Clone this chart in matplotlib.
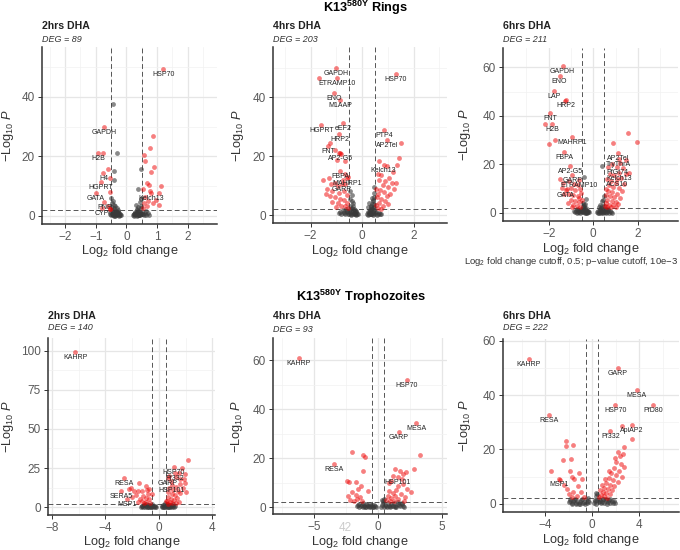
import numpy as np
import matplotlib.pyplot as plt

plt.rcParams['font.family'] = ['Liberation Sans', 'DejaVu Sans']
plt.rcParams['mathtext.fontset'] = 'custom'
plt.rcParams['mathtext.rm'] = 'Liberation Sans'
plt.rcParams['mathtext.it'] = 'Liberation Sans:italic'
plt.rcParams['mathtext.bf'] = 'Liberation Sans:bold'

FC_CUT = 0.5
P_CUT = 2.0  # -log10(10e-3)

# ---------------- K13 580Y Rings ----------------
rings_2h_genes = ['HSP70', 'GAPDH', 'H2B', 'H4', 'HGPRT', 'GATA', 'PNP', 'CYP', 'Kelch13']
rings_2h_gene_pts = [(1.20, 49.4), (-0.73, 30.0), (-0.93, 21.0), (-0.75, 14.5), (-0.84, 11.3),
                     (-1.00, 7.6), (-0.72, 4.6), (-0.81, 2.6), (0.80, 7.6)]
rings_2h_pts = [
    (-0.44, 37.6), (0.87, 26.9), (0.77, 22.7), (-0.31, 21.2), (-0.75, 21.0),
    (0.57, 20.4), (0.59, 18.6), (0.89, 16.5), (0.46, 15.8), (0.81, 14.9),
    (-0.61, 15.8), (-0.42, 15.2), (-0.52, 12.8), (-0.42, 12.1), (0.67, 11.2),
    (0.74, 10.4), (1.11, 10.2), (0.39, 8.9), (0.77, 8.4), (0.54, 9.1),
    (-0.52, 8.1), (1.07, 7.6), (-0.50, 6.1), (1.05, 3.7), (0.95, 5.5),
    (0.62, 6.5), (0.70, 5.0), (0.58, 4.2), (0.85, 4.5), (0.66, 3.2),
    (0.55, 2.8), (-0.60, 3.5), (-0.55, 2.5),
    (-0.55, 1.2), (-0.52, 0.5), (-0.50, 3.1), (-0.48, 0.8), (-0.46, 4.2),
    (-0.45, 1.9), (-0.43, 0.3), (-0.41, 2.6), (-0.40, 1.1), (-0.38, 0.6),
    (-0.36, 3.5), (-0.35, 0.2), (-0.33, 1.6), (-0.31, 0.9), (-0.30, 0.4),
    (-0.28, 2.1), (-0.27, 0.7), (-0.25, 0.3), (-0.23, 1.0), (-0.21, 0.2),
    (-0.44, 5.0), (-0.39, 0.4), (-0.34, 1.3), (-0.29, 0.6), (-0.47, 2.0),
    (-0.42, 0.1), (-0.37, 0.9), (-0.32, 2.8), (-0.26, 1.5), (-0.20, 0.5),
    (-0.49, 0.2), (-0.45, 0.6), (-0.41, 1.5), (-0.37, 0.1), (-0.33, 0.5),
    (-0.29, 1.2), (-0.24, 0.1), (-0.18, 0.3), (-0.53, 2.2), (-0.39, 3.8),
    (0.22, 0.3), (0.25, 0.8), (0.27, 0.2), (0.29, 1.4), (0.31, 0.5),
    (0.33, 2.2), (0.35, 0.9), (0.37, 3.0), (0.39, 0.4), (0.41, 1.7),
    (0.43, 4.8), (0.45, 1.0), (0.47, 2.6), (0.49, 0.6), (0.26, 0.1),
    (0.30, 0.6), (0.34, 1.2), (0.38, 0.2), (0.42, 0.8), (0.46, 5.6),
    (0.32, 3.6), (0.36, 1.9), (0.40, 0.4), (0.44, 1.2), (0.48, 3.3),
    (0.55, 0.7), (0.60, 1.1), (0.65, 0.4), (0.70, 0.9), (0.52, 1.5),
    (0.24, 0.5), (0.28, 1.0), (0.33, 0.1), (0.37, 0.7), (0.41, 0.2),
    (0.45, 0.3), (0.50, 0.8), (0.58, 0.2), (0.63, 1.6), (0.75, 0.3),
]

rings_4h_genes = ['GAPDH', 'ETRAMP10', 'HSP70', 'ENO', 'M1AAP', 'HGPRT', 'eEF2', 'HRP2',
                  'PTP4', 'AP2Tel', 'FNT', 'AP2-G5', 'Kelch13', 'FBPA', 'MAHRP1', 'GARP']
rings_4h_gene_pts = [(-1.01, 50.0), (-0.97, 46.4), (1.32, 47.7), (-1.10, 41.3), (-0.85, 38.9),
                     (-1.58, 30.6), (-0.74, 31.3), (-0.88, 27.4), (0.87, 28.7), (0.96, 25.3),
                     (-1.32, 23.4), (-0.84, 20.9), (0.84, 17.0), (-0.84, 15.0), (-0.58, 12.6),
                     (-0.78, 10.4)]
rings_4h_pts = [
    (-1.66, 46.4), (-1.25, 24.6), (1.51, 24.5), (-1.06, 22.2), (-0.88, 21.1),
    (-0.80, 20.6), (-0.99, 18.8), (-0.65, 18.4), (0.67, 18.2), (1.45, 19.4),
    (0.97, 16.6), (1.37, 17.0),
    (0.60, 14.0), (0.75, 13.5), (1.20, 14.6), (1.05, 12.5), (1.30, 11.0),
    (0.90, 11.5), (1.15, 10.8), (0.65, 11.8), (0.80, 10.2), (1.00, 9.5),
    (0.55, 9.0), (0.70, 8.5), (1.25, 8.8), (0.85, 7.8), (0.62, 7.0),
    (0.95, 6.5), (1.10, 7.2), (0.58, 6.0), (0.75, 5.5), (0.90, 4.8),
    (0.66, 4.2), (0.55, 3.5), (0.80, 3.0), (1.02, 3.8), (0.60, 2.5), (0.72, 2.2),
    (-1.50, 11.8), (-1.30, 12.5), (-1.20, 10.5), (-1.05, 11.0), (-0.95, 9.8),
    (-0.75, 12.0), (-0.65, 10.5), (-1.35, 9.0), (-1.15, 8.2), (-0.90, 7.5),
    (-0.70, 8.2), (-0.60, 6.8), (-1.25, 6.5), (-1.05, 6.0), (-0.85, 5.5),
    (-0.72, 5.0), (-0.58, 4.2), (-0.95, 4.0), (-1.15, 4.5), (-0.80, 3.2),
    (-0.65, 3.0), (-0.55, 2.4), (-1.00, 2.6), (-1.40, 7.0), (-0.68, 14.0), (-0.55, 13.0),
    (-0.90, 0.6), (-0.85, 1.2), (-0.80, 0.3), (-0.75, 1.7), (-0.70, 0.8),
    (-0.65, 0.2), (-0.60, 1.4), (-0.55, 0.5), (-0.50, 1.0), (-0.47, 3.2),
    (-0.44, 0.4), (-0.41, 2.5), (-0.38, 1.1), (-0.35, 4.1), (-0.32, 0.6),
    (-0.29, 1.8), (-0.26, 0.3), (-0.23, 0.9), (-0.20, 0.2), (-0.17, 0.5),
    (-0.45, 5.6), (-0.40, 6.8), (-0.36, 3.0), (-0.30, 2.2), (-0.25, 1.3),
    (-0.42, 0.1), (-0.33, 0.7), (-0.28, 0.4), (-0.62, 1.9), (-0.72, 0.9),
    (-0.48, 1.6), (-0.43, 2.0), (-0.37, 0.2), (-0.34, 1.5), (-0.27, 0.9),
    (-0.22, 0.1), (-0.52, 0.2), (-0.58, 0.9), (-0.46, 8.0), (-0.39, 4.8),
    (0.20, 0.4), (0.23, 1.0), (0.26, 0.2), (0.29, 1.6), (0.32, 0.6),
    (0.35, 0.3), (0.38, 1.2), (0.41, 0.8), (0.44, 0.1), (0.47, 1.8),
    (0.50, 0.5), (0.55, 1.1), (0.60, 0.3), (0.65, 0.7), (0.70, 0.2),
    (0.24, 2.6), (0.28, 4.0), (0.33, 3.2), (0.37, 5.8), (0.42, 2.4),
    (0.46, 7.5), (0.30, 1.4), (0.36, 0.5), (0.40, 3.8), (0.45, 6.2),
    (0.27, 0.9), (0.48, 9.5), (0.39, 2.0), (0.34, 1.9), (0.43, 4.6),
    (0.22, 0.1), (0.31, 0.2), (0.40, 0.4), (0.49, 0.9), (0.57, 0.1),
    (0.45, 2.8), (0.35, 2.6), (0.41, 5.2), (0.47, 3.6), (0.75, 0.5),
]

rings_6h_genes = ['GAPDH', 'ENO', 'LAP', 'HRP2', 'FNT', 'H2B', 'MAHRP1', 'FBPA', 'AP2-G5',
                  'GARP', 'ETRAMP10', 'GATA', 'AP2Tel', 'TryThrA', 'PfGt74', 'Kelch13', 'ACS10']
rings_6h_gene_pts = [(-1.38, 60.5), (-1.51, 56.5), (-1.78, 50.1), (-1.21, 46.5), (-1.94, 41.2),
                     (-1.85, 36.8), (-0.94, 31.5), (-1.30, 25.2), (-1.03, 19.4), (-0.94, 15.8),
                     (-0.64, 13.5), (-1.24, 9.4), (1.12, 24.7), (1.15, 22.3), (1.08, 19.0),
                     (1.15, 16.5), (1.08, 13.9)]
rings_6h_pts = [
    (-1.27, 46.0), (-2.15, 36.6), (-1.70, 30.0), (-2.00, 28.5), (1.54, 32.8),
    (1.96, 29.3), (0.90, 28.9), (1.48, 21.8), (1.22, 20.8), (0.37, 19.4),
    (-0.42, 14.9), (-0.34, 5.7),
    (0.64, 18.8), (0.85, 20.2), (1.35, 18.5), (1.60, 16.5), (1.45, 16.0),
    (0.75, 16.2), (0.95, 15.5), (1.25, 14.5), (0.60, 14.0), (0.80, 13.0),
    (1.00, 12.5), (1.40, 12.0), (0.70, 11.5), (0.90, 10.8), (1.15, 10.5),
    (0.55, 10.0), (0.65, 9.0), (0.85, 8.5), (1.05, 8.0), (1.30, 9.2),
    (0.58, 7.5), (0.75, 7.0), (0.95, 6.5), (1.20, 6.0), (0.62, 5.5),
    (0.82, 5.0), (1.00, 4.5), (0.55, 4.0), (0.70, 3.5), (0.90, 3.2),
    (1.10, 3.8), (0.60, 2.6), (0.78, 2.3), (0.52, 3.0), (1.02, 2.4),
    (-1.50, 14.0), (-1.35, 12.5), (-1.10, 13.0), (-0.85, 12.0), (-0.70, 11.5),
    (-1.40, 10.5), (-1.20, 10.0), (-1.00, 10.5), (-0.80, 9.5), (-0.60, 10.0),
    (-1.30, 8.0), (-1.10, 7.8), (-0.90, 7.5), (-0.70, 7.0), (-0.55, 8.2),
    (-1.00, 5.5), (-0.80, 5.0), (-0.65, 4.5), (-1.15, 4.2), (-0.90, 3.5),
    (-0.72, 3.0), (-0.58, 2.6), (-0.95, 2.3), (-0.62, 6.0), (-0.52, 5.2),
    (-0.85, 0.8), (-0.80, 0.3), (-0.75, 1.5), (-0.70, 0.6), (-0.65, 1.1),
    (-0.60, 0.2), (-0.55, 1.7), (-0.50, 0.4), (-0.46, 2.8), (-0.42, 0.9),
    (-0.38, 0.3), (-0.34, 1.3), (-0.30, 0.6), (-0.26, 0.2), (-0.22, 0.8),
    (-0.18, 0.4), (-0.48, 4.0), (-0.40, 3.2), (-0.32, 2.2), (-0.44, 1.9),
    (-0.36, 0.1), (-0.28, 1.0), (-0.52, 0.7), (-0.62, 0.4), (-0.72, 0.2),
    (-0.45, 0.5), (-0.39, 1.6), (-0.33, 0.1), (-0.24, 0.5), (-0.58, 1.0),
    (-0.68, 1.4), (-0.78, 0.9), (-0.47, 1.2), (-0.41, 2.4), (-0.35, 3.6),
    (0.18, 0.4), (0.22, 1.0), (0.26, 0.2), (0.30, 1.6), (0.34, 0.7),
    (0.38, 0.3), (0.42, 1.2), (0.46, 0.5), (0.50, 0.9), (0.55, 1.8),
    (0.60, 0.4), (0.65, 1.1), (0.70, 0.2), (0.75, 0.8), (0.80, 0.5),
    (0.24, 2.6), (0.32, 3.5), (0.40, 4.8), (0.28, 1.3), (0.36, 2.1),
    (0.44, 5.5), (0.48, 3.0), (0.58, 0.1), (0.68, 1.5), (0.42, 0.0),
    (0.20, 0.1), (0.29, 0.5), (0.37, 1.0), (0.45, 1.6), (0.53, 0.3),
    (0.62, 0.7), (0.85, 0.2), (0.46, 7.2), (0.39, 2.9), (0.33, 0.2),
]

# ---------------- K13 580Y Trophozoites ----------------
troph_2h_genes = ['KAHRP', 'RESA', 'SERA5', 'MSP1', 'HSP70', 'Pf332', 'GARP', 'HSP101']
troph_2h_gene_pts = [(-6.25, 98.9), (-2.59, 18.6), (-2.80, 10.4), (-2.40, 5.0), (1.10, 25.8),
                     (1.22, 22.0), (0.65, 18.5), (0.97, 14.3)]
troph_2h_pts = [
    (2.20, 30.1), (1.72, 24.8), (1.47, 22.0), (1.97, 21.0), (1.97, 15.6),
    (1.85, 18.2), (1.60, 17.8), (0.73, 20.0), (1.30, 19.5), (0.90, 17.0),
    (1.55, 14.5), (1.25, 13.0), (0.75, 12.5), (1.80, 12.0), (1.05, 11.0),
    (1.40, 10.5), (0.65, 9.5), (0.95, 8.5), (1.20, 7.5), (1.60, 9.0),
    (0.70, 6.5), (0.90, 5.5), (1.10, 4.8), (1.35, 6.0), (0.60, 4.0),
    (0.80, 3.2), (1.00, 2.6), (1.50, 3.5), (0.68, 2.3), (1.25, 2.8), (2.05, 10.0),
    (-2.26, 11.3), (-1.90, 10.2), (-1.60, 10.6), (-1.30, 10.5), (-0.90, 11.2),
    (-0.80, 8.6), (-1.47, 15.6), (-0.55, 8.5), (-1.75, 8.0), (-1.20, 7.2),
    (-1.00, 6.0), (-1.45, 5.5), (-0.75, 5.0), (-1.25, 4.0), (-0.95, 3.2),
    (-0.65, 2.8), (-1.60, 3.0), (-2.00, 6.5), (-1.10, 2.4), (-2.10, 12.5),
    (-1.00, 13.8), (-0.75, 11.5),
    (-1.35, 0.2), (-1.28, 0.8), (-1.20, 0.1), (-1.12, 1.2), (-1.05, 0.4),
    (-0.98, 0.6), (-0.90, 0.2), (-0.83, 1.5), (-0.76, 0.3), (-0.69, 0.9),
    (-0.62, 0.1), (-0.55, 1.8), (-0.48, 0.5), (-0.41, 0.2), (-0.34, 1.0),
    (-0.27, 0.4), (-0.20, 0.1), (-1.15, 1.6), (-0.95, 1.9), (-0.72, 1.3),
    (-0.50, 0.7), (-0.30, 0.6), (-1.30, 1.0), (-0.85, 0.0), (-0.60, 0.3),
    (0.20, 0.1), (0.27, 0.6), (0.34, 0.3), (0.41, 1.1), (0.48, 0.2),
    (0.55, 0.8), (0.62, 0.4), (0.69, 1.4), (0.76, 0.1), (0.83, 0.7),
    (0.90, 1.2), (0.97, 0.3), (1.04, 0.9), (1.11, 0.2), (1.18, 0.5),
    (0.30, 1.7), (0.45, 2.5), (0.60, 1.9), (0.75, 1.6), (0.90, 1.0),
    (1.05, 1.8), (0.38, 0.0), (0.52, 4.0), (0.66, 0.2), (0.80, 0.0),
]

troph_4h_genes = ['KAHRP', 'HSP70', 'MESA', 'GARP', 'RESA', 'HSP101']
troph_4h_gene_pts = [(-6.20, 60.8), (2.26, 51.8), (2.99, 34.4), (1.63, 30.6), (-3.41, 17.6),
                     (1.57, 12.2)]
troph_4h_pts = [
    (3.31, 21.3), (-2.05, 22.4), (-1.13, 21.3), (-1.02, 20.5), (-1.15, 14.6),
    (2.81, 15.4), (-2.42, 10.6), (-2.26, 10.1), (-1.70, 10.1), (-0.74, 6.7),
    (1.31, 15.4), (1.73, 14.6), (2.23, 14.3), (1.94, 13.6), (1.18, 12.5),
    (1.85, 11.5), (2.00, 9.5), (0.90, 9.8), (2.30, 7.5), (1.40, 7.0),
    (1.15, 5.8), (1.80, 5.2), (0.75, 4.5), (2.55, 6.0), (1.00, 3.8),
    (1.55, 3.2), (0.65, 2.8), (2.05, 2.6), (1.25, 2.3), (0.85, 6.5),
    (1.60, 8.8), (1.05, 10.5), (2.10, 4.2), (1.35, 4.6), (0.95, 2.4),
    (-2.00, 6.0), (-1.55, 7.5), (-2.30, 4.5), (-1.75, 5.0), (-1.40, 4.2),
    (-2.15, 3.0), (-1.60, 3.4), (-1.25, 2.6), (-1.90, 2.4), (-1.35, 8.5),
    (-1.65, 0.3), (-1.55, 0.8), (-1.45, 0.1), (-1.35, 0.5), (-1.25, 1.0),
    (-1.15, 0.2), (-1.05, 0.6), (-0.95, 0.1), (-0.85, 0.9), (-0.75, 0.3),
    (-0.65, 0.5), (-0.55, 0.0), (-0.45, 0.7), (-0.35, 0.2), (-0.25, 0.4),
    (-0.15, 0.1), (-1.50, 1.3), (-1.20, 1.5), (-0.90, 1.2), (-0.60, 1.1),
    (-0.30, 0.8), (-1.00, 0.0), (-0.70, 0.0), (-0.40, 0.0),
    (0.25, 0.2), (0.35, 0.7), (0.45, 0.1), (0.55, 1.0), (0.65, 0.3),
    (0.75, 1.5), (0.85, 0.5), (0.95, 0.1), (1.05, 1.2), (1.15, 0.4),
    (1.25, 1.8), (1.35, 0.6), (1.45, 0.2), (1.55, 1.4), (1.65, 0.8),
    (1.75, 0.3), (1.85, 1.1), (1.95, 0.5), (2.05, 0.2), (0.40, 1.7),
    (0.70, 0.0), (1.00, 0.6), (1.30, 0.0), (1.60, 1.9), (1.90, 1.6),
    (0.30, 2.8), (0.45, 3.4), (0.38, 2.3),
]

troph_6h_genes = ['KAHRP', 'GARP', 'MESA', 'HSP70', 'PfD80', 'RESA', 'ApiAP2', 'Pf332', 'MSP1']
troph_6h_gene_pts = [(-5.39, 53.4), (2.19, 50.0), (3.80, 41.8), (1.96, 36.5), (5.16, 36.3),
                     (-3.66, 32.6), (3.40, 28.9), (1.56, 26.8), (-2.83, 9.1)]
troph_6h_pts = [
    (2.50, 28.7), (3.38, 23.8), (2.21, 19.1), (-2.27, 23.2), (-2.20, 21.1),
    (-1.60, 21.7), (-2.50, 16.1), (-1.80, 16.6), (-3.55, 11.9),
    (-1.85, 11.9), (-1.10, 11.3), (-1.73, 9.8), (-2.75, 8.8), (-2.13, 5.4),
    (-1.53, 9.1), (-1.23, 6.6), (-0.89, 9.1), (-1.60, 4.5), (-2.00, 3.5),
    (-1.30, 3.0), (-0.95, 4.2), (-2.40, 6.8), (-1.75, 2.6), (-0.70, 2.5),
    (2.35, 17.5), (2.05, 15.5), (2.45, 14.8), (2.70, 13.5), (1.85, 13.0),
    (2.30, 12.2), (1.60, 11.5), (2.00, 10.5), (2.55, 10.0), (1.40, 9.5),
    (1.75, 8.8), (2.20, 8.0), (1.20, 7.5), (1.55, 7.0), (1.90, 6.5),
    (1.05, 6.0), (1.35, 5.5), (1.70, 5.0), (0.90, 4.5), (1.20, 4.0),
    (1.50, 3.5), (0.75, 3.2), (1.00, 2.8), (0.62, 2.4), (1.30, 2.3),
    (2.75, 20.8), (1.95, 16.8), (2.60, 18.5), (1.45, 12.0), (1.10, 9.0),
    (0.85, 7.0), (0.70, 5.2),
    (-2.00, 0.5), (-1.88, 1.2), (-1.76, 0.2), (-1.64, 0.9), (-1.52, 1.5),
    (-1.40, 0.3), (-1.28, 1.0), (-1.16, 0.1), (-1.04, 0.7), (-0.92, 1.3),
    (-0.80, 0.4), (-0.68, 0.8), (-0.56, 1.6), (-0.44, 0.2), (-0.32, 1.0),
    (-0.25, 0.5), (-1.70, 0.0), (-1.35, 0.0), (-1.00, 0.0), (-0.65, 0.1),
    (-0.38, 2.2), (-1.45, 1.9), (-0.85, 1.8), (-1.90, 1.7),
    (0.15, 0.3), (0.25, 0.9), (0.35, 0.1), (0.45, 1.4), (0.55, 0.5),
    (0.65, 1.1), (0.75, 0.2), (0.85, 0.8), (0.95, 1.6), (1.05, 0.4),
    (1.15, 1.2), (1.25, 0.0), (1.35, 0.7), (1.45, 1.5), (1.55, 0.3),
    (1.65, 0.9), (1.75, 0.2), (1.85, 1.0), (1.95, 0.4), (0.30, 2.8),
    (0.60, 1.9), (0.90, 1.8), (1.20, 1.7), (1.50, 1.9), (0.20, 1.5),
    (0.40, 3.5), (0.33, 4.0),
]

row1_title = r'K13$^{\mathbf{580Y}}$ Rings'
row2_title = r'K13$^{\mathbf{580Y}}$ Trophozoites'
caption = r'Log$_2$ fold change cutoff, 0.5; p$-$value cutoff, 10e$-$3'

W, H = 680, 550


def px_rect(l, t, r, b):
    return [l / W, 1 - b / H, (r - l) / W, (b - t) / H]


panels = [
    dict(pts=rings_2h_pts, genes=rings_2h_genes, gpts=rings_2h_gene_pts, title='2hrs DHA', deg=89,
         box=(42, 47, 217, 224), xlim=(-2.75, 2.95), ylim=(-2.7, 56.8),
         xt=[-2, -1, 0, 1, 2], yt=[0, 20, 40], xm=[-2.5, -1.5, -0.5, 0.5, 1.5, 2.5], ym=[10, 30, 50],
         ylx=8, xly=251, top=(26, 39)),
    dict(pts=rings_4h_pts, genes=rings_4h_genes, gpts=rings_4h_gene_pts, title='4hrs DHA', deg=203,
         box=(273, 47, 447, 223), xlim=(-3.46, 3.3), ylim=(-2.7, 57),
         xt=[-2, 0, 2], yt=[0, 20, 40], xm=[-3, -1, 1, 3], ym=[10, 30, 50],
         ylx=238, xly=251, top=(26, 39)),
    dict(pts=rings_6h_pts, genes=rings_6h_genes, gpts=rings_6h_gene_pts, title='6hrs DHA', deg=211,
         box=(503, 48, 678, 221), xlim=(-4.05, 3.8), ylim=(-3.3, 68),
         xt=[-2, 0, 2], yt=[0, 20, 40, 60], xm=[-3, -1, 1, 3], ym=[10, 30, 50],
         ylx=465, xly=249, top=(26, 39)),
    dict(pts=troph_2h_pts, genes=troph_2h_genes, gpts=troph_2h_gene_pts, title='2hrs DHA', deg=140,
         box=(48, 338, 215, 515), xlim=(-8.3, 4.2), ylim=(-5, 108),
         xt=[-8, -4, 0, 4], yt=[0, 25, 50, 75, 100], xm=[-6, -2, 2], ym=[12.5, 37.5, 62.5, 87.5],
         ylx=8, xly=542, top=(316, 328)),
    dict(pts=troph_4h_pts, genes=troph_4h_genes, gpts=troph_4h_gene_pts, title='4hrs DHA', deg=93,
         box=(273, 338, 447, 514), xlim=(-8.2, 5.4), ylim=(-2.8, 69),
         xt=[-5, 0, 5], yt=[0, 20, 40, 60], xm=[-7.5, -2.5, 2.5], ym=[10, 30, 50],
         ylx=237, xly=542, top=(316, 329)),
    dict(pts=troph_6h_pts, genes=troph_6h_genes, gpts=troph_6h_gene_pts, title='6hrs DHA', deg=222,
         box=(503, 339, 679, 512), xlim=(-7.6, 7.4), ylim=(-3, 60.6),
         xt=[-4, 0, 4], yt=[0, 20, 40, 60], xm=[-6, -2, 2, 6], ym=[10, 30, 50],
         ylx=465, xly=540, top=(316, 328)),
]

fig = plt.figure(figsize=(W / 100, H / 100), dpi=100)

for p in panels:
    l, t, r, b = p['box']
    ax = fig.add_axes(px_rect(l, t, r, b))
    xy = np.array(p['pts'] + p['gpts'])
    x, y = xy[:, 0], xy[:, 1]
    sig = (np.abs(x) > FC_CUT) & (y > P_CUT)
    ax.scatter(x[~sig], y[~sig], s=12, c='#3a3a3a', alpha=0.6, linewidths=0, zorder=3)
    ax.scatter(x[sig], y[sig], s=12, c='#ee0000', alpha=0.5, linewidths=0, zorder=3)
    for name, (gx, gy) in zip(p['genes'], p['gpts']):
        ax.annotate(name, (gx, gy), xytext=(0, -5.5), textcoords='offset pixels',
                    ha='center', va='center', fontsize=5, color='#222222', zorder=4)
    for v in (-FC_CUT, FC_CUT):
        ax.axvline(v, color='#555555', ls=(0, (5, 3)), lw=0.7, zorder=2)
    ax.axhline(P_CUT, color='#555555', ls=(0, (5, 3)), lw=0.7, zorder=2)

    ax.set_xlim(*p['xlim'])
    ax.set_ylim(*p['ylim'])
    ax.set_xticks(p['xt'])
    ax.set_yticks(p['yt'])
    ax.set_xticks(p['xm'], minor=True)
    ax.set_yticks(p['ym'], minor=True)
    ax.grid(which='major', color='#e6e6e6', lw=0.9, zorder=0)
    ax.grid(which='minor', color='#f2f2f2', lw=0.5, zorder=0)
    ax.set_axisbelow(True)
    ax.tick_params(which='major', length=3, width=0.7, color='#333333',
                   labelsize=8.5, labelcolor='#5a5a5a', pad=2)
    ax.tick_params(which='minor', length=0)
    for side in ('top', 'right'):
        ax.spines[side].set_visible(False)
    for side in ('left', 'bottom'):
        ax.spines[side].set_color('#333333')
        ax.spines[side].set_linewidth(1.1)

    fig.text(l / W, 1 - p['top'][0] / H, p['title'], fontsize=7.6, fontweight='bold',
             color='#222222', ha='left', va='center')
    fig.text(l / W, 1 - p['top'][1] / H, 'DEG = %d' % p['deg'], fontsize=6.5, style='italic',
             color='#333333', ha='left', va='center')
    fig.text(p['ylx'] / W, 1 - (t + b) / 2 / H, r'$-$Log$_{10}$ $\mathit{P}$', rotation=90,
             fontsize=9.2, color='#333333', ha='center', va='center')
    fig.text((l + r) / 2 / W, 1 - p['xly'] / H, r'Log$_2$ fold change',
             fontsize=9.2, color='#333333', ha='center', va='center')

fig.text(366 / W, 1 - 8 / H, row1_title, fontsize=9.2, fontweight='bold', ha='center', va='center')
fig.text(361 / W, 1 - 297 / H, row2_title, fontsize=9.2, fontweight='bold', ha='center', va='center')
fig.text(678 / W, 1 - 262 / H, caption, fontsize=6.8, color='#333333', ha='right', va='center')
fig.text(345 / W, 1 - 528 / H, '42', fontsize=8.5, color='#cccccc', ha='center', va='center')

fig.savefig('out.png', dpi=100)
